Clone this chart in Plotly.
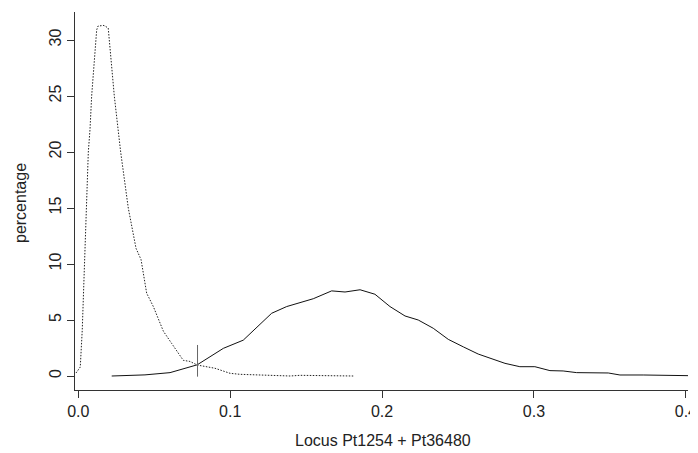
import plotly.graph_objects as go

# Dotted curve (left, sharp peak)
dotted_x = [-0.0015, 0.0013, 0.0026, 0.0040, 0.0055, 0.0066, 0.0077, 0.0088, 0.0121,
            0.0130, 0.0169, 0.0197, 0.0237, 0.0263, 0.0279, 0.0329, 0.0380, 0.0413,
            0.0450, 0.0494, 0.0560, 0.0615, 0.0658, 0.0691, 0.0735, 0.0783, 0.0900,
            0.0955, 0.0999, 0.1065, 0.1218, 0.1394, 0.1460, 0.1660, 0.1810]
dotted_y = [0.27, 0.8, 4.1, 10.4, 15.0, 20.0, 22.0, 25.0, 30.9,
            31.25, 31.3, 31.07, 25.0, 22.0, 20.0, 15.0, 11.4, 10.4,
            7.4, 6.2, 4.0, 2.9, 2.0, 1.4, 1.3, 0.98, 0.69,
            0.47, 0.24, 0.15, 0.06, 0.0, 0.06, 0.04, 0.0]

# Solid curve (right, broad peak)
solid_x = [0.0220, 0.0439, 0.0604, 0.0768, 0.0783, 0.0955, 0.1086, 0.1273, 0.1372,
           0.1547, 0.1668, 0.1756, 0.1855, 0.1953, 0.2052, 0.2151, 0.2238, 0.2337,
           0.2436, 0.2535, 0.2633, 0.2809, 0.2907, 0.3006, 0.3105, 0.3192, 0.3281,
           0.3489, 0.3566, 0.3719, 0.4017]
solid_y = [0.0, 0.1, 0.3, 0.9, 1.0, 2.47, 3.2, 5.6, 6.2,
           6.9, 7.6, 7.5, 7.7, 7.3, 6.2, 5.36, 5.0, 4.26,
           3.27, 2.6, 1.96, 1.13, 0.83, 0.83, 0.48, 0.45, 0.3,
           0.27, 0.09, 0.09, 0.03]

# Vertical marker at the crossing point
marker_x = [0.0785, 0.0785]
marker_y = [-0.06, 2.77]

x_ticks = [0.0, 0.1, 0.2, 0.3, 0.4]
x_tick_labels = ["0.0", "0.1", "0.2", "0.3", "0.4"]
y_ticks = [0, 5, 10, 15, 20, 25, 30]
y_tick_labels = ["0", "5", "10", "15", "20", "25", "30"]

x_title = "Locus Pt1254 + Pt36480"
y_title = "percentage"

font_family = "Liberation Sans, Arial, Helvetica, sans-serif"

fig = go.Figure()
fig.add_trace(go.Scatter(x=dotted_x, y=dotted_y, mode="lines",
                         line=dict(color="#222222", width=1, dash="1.5px,1.5px"),
                         showlegend=False, hoverinfo="skip"))
fig.add_trace(go.Scatter(x=solid_x, y=solid_y, mode="lines",
                         line=dict(color="#111111", width=1),
                         showlegend=False, hoverinfo="skip"))
fig.add_trace(go.Scatter(x=marker_x, y=marker_y, mode="lines",
                         line=dict(color="#666666", width=1),
                         showlegend=False, hoverinfo="skip"))

# page has an 8px body margin, so the figure is sized/margined to compensate
fig.update_layout(
    width=690, height=445,
    margin=dict(l=67, r=10, t=4, b=63),
    paper_bgcolor="white", plot_bgcolor="white",
    font=dict(family=font_family, size=16, color="#222222"),
    xaxis=dict(
        range=[-0.00217, 0.4014], tickmode="array", tickvals=x_ticks, ticktext=x_tick_labels,
        showgrid=False, zeroline=False, showline=True, linecolor="#333333", linewidth=1,
        ticks="outside", ticklen=7, tickcolor="#333333", tickwidth=1, automargin=False,
    ),
    yaxis=dict(
        range=[-1.25, 32.5], tickmode="array", tickvals=y_ticks, ticktext=y_tick_labels,
        showgrid=False, zeroline=False, showline=True, linecolor="#333333", linewidth=1,
        ticks="outside", ticklen=7, tickcolor="#333333", tickwidth=1, tickangle=-90,
        automargin=False,
    ),
    annotations=[
        dict(text=x_title, xref="paper", yref="paper", x=0.5024, y=-0.1323,
             xanchor="center", yanchor="middle", showarrow=False, font=dict(size=16)),
        dict(text=y_title, xref="paper", yref="paper", x=-0.0897, y=0.4947,
             xanchor="center", yanchor="middle", showarrow=False, textangle=-90,
             font=dict(size=16)),
    ],
)

fig.write_html("out.html")
